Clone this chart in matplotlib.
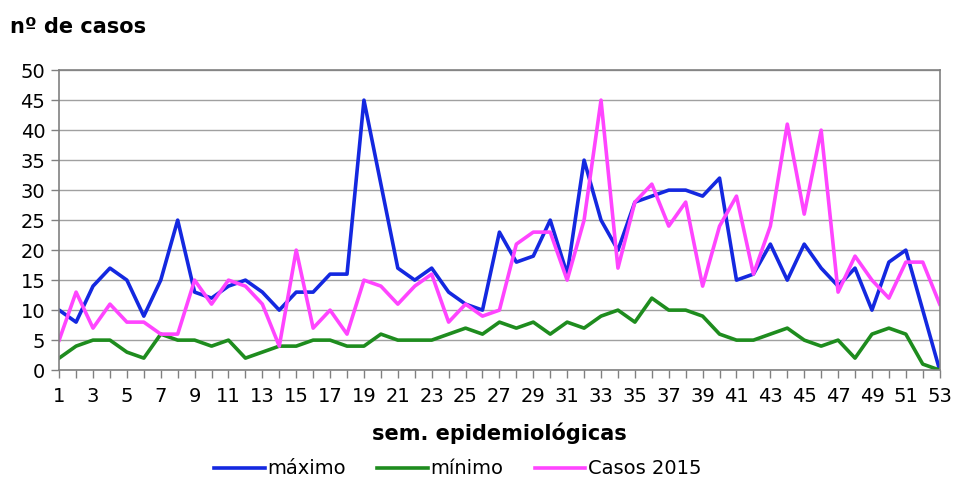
import matplotlib
matplotlib.use("Agg")
import matplotlib.pyplot as plt

semanas = list(range(1, 54))
maximo = [10, 8, 14, 17, 15, 9, 15, 25, 13, 12, 14, 15, 13, 10, 13, 13, 16, 16, 45, 31,
          17, 15, 17, 13, 11, 10, 23, 18, 19, 25, 16, 35, 25, 20, 28, 29, 30, 30, 29, 32,
          15, 16, 21, 15, 21, 17, 14, 17, 10, 18, 20, 10, 0]
minimo = [2, 4, 5, 5, 3, 2, 6, 5, 5, 4, 5, 2, 3, 4, 4, 5, 5, 4, 4, 6,
          5, 5, 5, 6, 7, 6, 8, 7, 8, 6, 8, 7, 9, 10, 8, 12, 10, 10, 9, 6,
          5, 5, 6, 7, 5, 4, 5, 2, 6, 7, 6, 1, 0]
casos_2015 = [5, 13, 7, 11, 8, 8, 6, 6, 15, 11, 15, 14, 11, 4, 20, 7, 10, 6, 15, 14,
              11, 14, 16, 8, 11, 9, 10, 21, 23, 23, 15, 25, 45, 17, 28, 31, 24, 28, 14, 24,
              29, 16, 24, 41, 26, 40, 13, 19, 15, 12, 18, 18, 11]

plt.rcParams["font.family"] = ["DejaVu Sans"]

fig = plt.figure(figsize=(9.54, 4.87), dpi=100)
ax = fig.add_axes([0.062, 0.240, 0.923, 0.616])

ax.plot(semanas, maximo, color="#1428e0", lw=2.6, label="máximo")
ax.plot(semanas, minimo, color="#1e8c1e", lw=2.6, label="mínimo")
ax.plot(semanas, casos_2015, color="#ff45ff", lw=2.6, label="Casos 2015")

ax.set_xlim(1, 53)
ax.set_ylim(0, 50)
ax.set_yticks(range(0, 51, 5))
ax.set_xticks(semanas, minor=True)
ax.set_xticks(range(1, 54, 2))
ax.tick_params(axis="both", labelsize=14, color="#808080", length=6, width=1)
ax.tick_params(axis="x", pad=6)
ax.tick_params(axis="y", pad=4)
ax.tick_params(axis="x", which="minor", color="#808080", length=6, width=1)
ax.grid(True, axis="y", color="#a0a0a0", lw=1)
ax.set_axisbelow(True)
for s in ax.spines.values():
    s.set_color("#808080")
    s.set_linewidth(1.2)

ax.set_xlabel("sem. epidemiológicas", fontsize=15, fontweight="bold", labelpad=12)
fig.text(0.010, 0.945, "nº de casos", fontsize=15, fontweight="bold", va="center")

leg = fig.legend(loc="center", bbox_to_anchor=(0.48, 0.037), ncol=3, frameon=False,
                 fontsize=14, handlelength=2.6, columnspacing=1.6, handletextpad=0.15)

fig.savefig("out.png", dpi=100)
